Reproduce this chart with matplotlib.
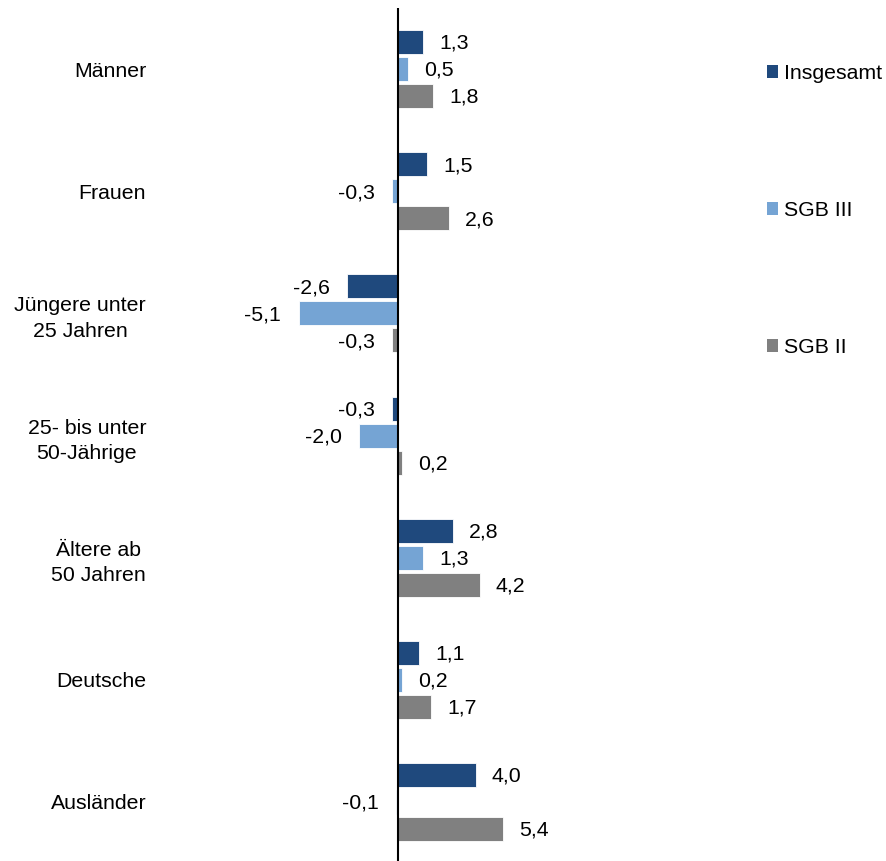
import numpy as np
import matplotlib
matplotlib.use("Agg")
import matplotlib.pyplot as plt
from matplotlib.patches import Patch

plt.rcParams["font.family"] = ["Liberation Sans", "DejaVu Sans"]

categories = [
    "Männer",
    "Frauen",
    "Jüngere unter\n25 Jahren",
    "25- bis unter\n50-Jährige",
    "Ältere ab\n50 Jahren",
    "Deutsche",
    "Ausländer",
]
insgesamt = [1.3, 1.5, -2.6, -0.3, 2.8, 1.1, 4.0]
sgb3 = [0.5, -0.3, -5.1, -2.0, 1.3, 0.2, -0.1]
sgb2 = [1.8, 2.6, -0.3, 0.2, 4.2, 1.7, 5.4]
series_names = ["Insgesamt", "SGB III", "SGB II"]
colors = ["#1F497D", "#75A4D4", "#808080"]

fs = 15.3
fig = plt.figure(figsize=(8.86, 8.61), dpi=100)
# axes: x pixels 160..720, y pixels 8..861 (top origin)
ax = fig.add_axes([160 / 886, 0, 560 / 886, 853 / 861])

y = np.arange(len(categories))
offset = 0.221
height = 0.196
for k, (vals, name, col) in enumerate(zip([insgesamt, sgb3, sgb2], series_names, colors)):
    pos = y + (k - 1) * offset
    ax.barh(pos, vals, height=height, color=col, edgecolor="white",
            linewidth=0.6, label=name)
    for p, v in zip(pos, vals):
        txt = f"{v:.1f}".replace(".", ",")
        ax.annotate(txt, xy=(v, p), xytext=(11.5 if v >= 0 else -12.5, -1),
                    textcoords="offset points", va="center",
                    ha="left" if v >= 0 else "right", fontsize=fs, color="#000000")

ax.axvline(0, color="black", linewidth=1.5, zorder=3)
ax.set_xlim(-238 / 19.5, 322 / 19.5)
ax.set_ylim(6.483, -0.5)

for s in ax.spines.values():
    s.set_visible(False)
ax.set_xticks([])
ax.set_yticks(y)
ax.set_yticklabels(categories, fontsize=fs)
for lab in ax.get_yticklabels():
    lab.set_multialignment("center")
    lab.set_linespacing(1.45)
ax.tick_params(axis="y", length=0, pad=10)

handles = [Patch(facecolor=c, edgecolor="none") for c in colors]
fig.legend(handles, series_names, loc="upper left",
           bbox_to_anchor=(767 / 886, 1 - 64 / 861), frameon=False,
           fontsize=fs, handlelength=0.52, handleheight=0.52,
           handletextpad=0.3, labelspacing=5.55, borderpad=0, borderaxespad=0)

fig.savefig("out.png", dpi=100, facecolor="white")
